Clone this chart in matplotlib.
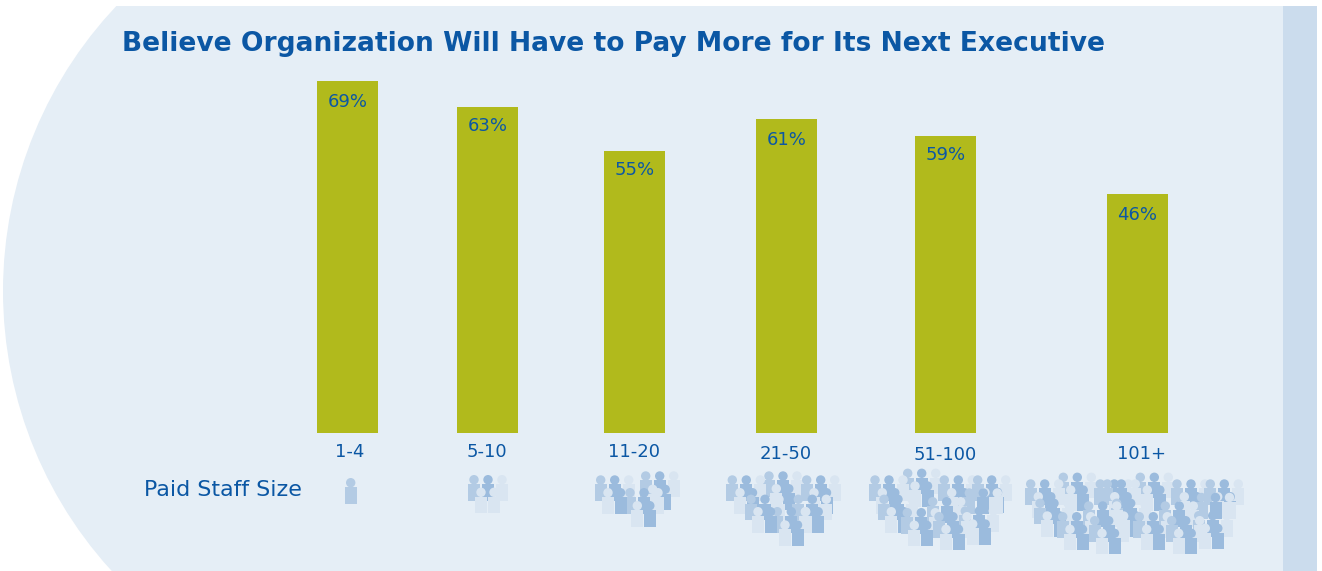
import matplotlib
matplotlib.use("Agg")
import matplotlib.pyplot as plt
from matplotlib.patches import Circle, Ellipse, Rectangle

# bar heights, printed labels are separate since they don't quite agree
staff_sizes = ['1-4', '5-10', '11-20', '21-50', '51-100', '101+']
bar_values = [69, 63.9, 55.3, 61.6, 58.2, 46.9]
bar_labels = ['69%', '63%', '55%', '61%', '59%', '46%']

# layout, in image pixels
bar_x = [347.5, 487.5, 634.5, 786.5, 945.5, 1137.5]
label_x = [350, 486.5, 634, 785.5, 945.5, 1141.5]
label_y = [452, 452, 452, 454, 455, 454]
value_drop = [21, 19, 19, 21, 19, 21]
bar_width = 61

BLUE = '#0B57A4'
OLIVE = '#B1BA1C'
PALE = '#E5EEF6'
BAND = '#CBDCED'
MID = '#B3CBE4'
DARK = '#9BBBDD'
LIGHT = '#D9E5F1'

# people icons: trio = mid/dark/light, pair = light/dark, positions are head of first person
singles = [(350.7, 482.7)]
trios = [
    (474, 479.7),
    (600.7, 480), (645.7, 476), (630, 492.7),
    (732.3, 480), (769, 476), (806.7, 480), (751, 499.3), (798.3, 499.3), (777.3, 511.7),
    (875, 480), (907.7, 473.3), (944.3, 480), (977.7, 480), (884, 499.3), (932.7, 501.7),
    (907.3, 512.7), (939, 516.7), (969.3, 493), (965.3, 511),
    (1030.7, 484), (1063.3, 477.3), (1100.3, 484), (1107.3, 484), (1140.3, 477.3), (1177, 484),
    (1210.3, 484), (1040, 503.3), (1116.7, 503.3), (1088.7, 506), (1165.3, 506), (1201.5, 497.5),
    (1062.7, 516.7), (1094.7, 520.7), (1139.3, 516.7), (1171.7, 520.7), (1198.7, 515.7),
]
pairs = [
    (608, 492.7), (652.7, 489.3), (637.3, 505.7),
    (740, 492.7), (776.3, 488.7), (814, 492.7), (758, 511.7), (785, 525), (805.7, 511.7),
    (882.3, 492.7), (915, 486), (951.7, 492.7), (985, 492.3), (891.3, 511.7), (914.3, 525.3),
    (946, 529.3), (972.7, 524),
    (1038.3, 496.7), (1070.7, 490), (1114.7, 496.7), (1147.3, 490), (1047.3, 516), (1070, 529.3),
    (1102, 533.3), (1123.7, 516), (1146.7, 529.3), (1178.7, 533.3), (1184.3, 496.7), (1217.7, 496.7),
    (1205.3, 528.3),
]
light_pairs = [(481, 492.3)]


def person(ax, x, y, color, z):
    # lower rows sit on top of the ones behind them
    ax.add_patch(Circle((x, y), 4.7, color=color, lw=0, zorder=z))
    ax.add_patch(Rectangle((x - 6, y + 4.3), 12, 16.7, color=color, lw=0, zorder=z))


fig = plt.figure(figsize=(13.22, 5.71), dpi=100)

# background drawn in pixel coordinates
bg = fig.add_axes([0, 0, 1, 1])
bg.set_xlim(0, 1322)
bg.set_ylim(571, 0)
bg.axis('off')

clip = Rectangle((0, 6), 1283, 565, transform=bg.transData)
blob = Ellipse((418, 291), 830, 830, color=PALE, lw=0, zorder=0)
bg.add_patch(blob)
blob.set_clip_path(clip)
bg.add_patch(Rectangle((418, 6), 865, 565, color=PALE, lw=0, zorder=0))
bg.add_patch(Rectangle((1283, 6), 34, 565, color=BAND, lw=0, zorder=0))

bg.text(122, 44, 'Believe Organization Will Have to Pay More for Its Next Executive',
        color=BLUE, fontsize=19.1, family='DejaVu Sans', fontweight='bold', va='center', ha='left')
bg.text(144, 490, 'Paid Staff Size', color=BLUE, fontsize=15.9, va='center', ha='left')
for x, y, s in zip(label_x, label_y, staff_sizes):
    bg.text(x, y, s, color=BLUE, fontsize=13, va='center', ha='center', zorder=1000)

for x, y in singles:
    person(bg, x, y, MID, y)
for x, y in trios:
    person(bg, x, y, MID, y)
    person(bg, x + 14, y, DARK, y)
    person(bg, x + 28, y, LIGHT, y)
for x, y in pairs:
    person(bg, x, y, LIGHT, y)
    person(bg, x + 12.5, y, DARK, y)
for x, y in light_pairs:
    person(bg, x, y, LIGHT, y)
    person(bg, x + 13, y, LIGHT, y)

# bars on their own axes, value scale from the baseline up to the tallest bar
ax = fig.add_axes([0, (571 - 433) / 571, 1, 352 / 571])
ax.patch.set_alpha(0)
ax.set_xlim(0, 1322)
ax.set_ylim(0, 69)
ax.axis('off')
ax.bar(bar_x, bar_values, width=bar_width, color=OLIVE)
for x, v, s, d in zip(bar_x, bar_values, bar_labels, value_drop):
    ax.annotate(s, (x, v), xytext=(0, -d * 0.72), textcoords='offset points',
                color=BLUE, fontsize=13, ha='center', va='center')

fig.savefig('out.png', dpi=100)
